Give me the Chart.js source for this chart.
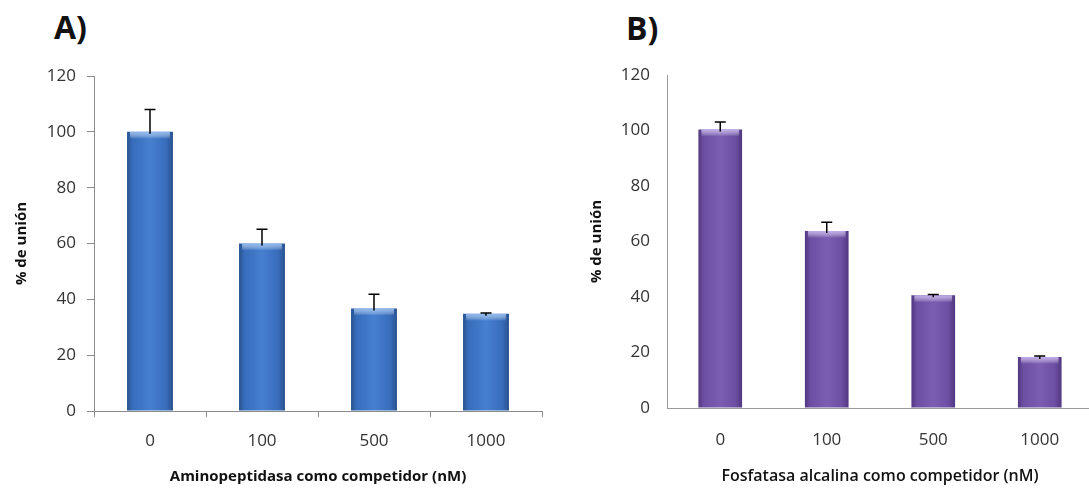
<!DOCTYPE html>
<html>
<head>
<meta charset="utf-8">
<script src="https://cdn.jsdelivr.net/npm/chart.js@4.4.0/dist/chart.umd.min.js"></script>
<style>
  html, body { margin: 0; padding: 0; width: 1089px; height: 491px; overflow: hidden; background: #fff; }
  .panel { position: absolute; top: 0; width: 560px; height: 491px; }
  .label { position: absolute; font-family: "Open Sans", sans-serif; font-weight: 700; font-size: 32px; color: #111; line-height: 1; }
</style>
</head>
<body>
<div class="label" style="left:54px; top:11px;">A)</div>
<div class="label" style="left:626px; top:12px;">B)</div>
<div class="panel" style="left:0;"><canvas id="chartA" width="560" height="491"></canvas></div>
<div class="panel" style="left:545px;"><canvas id="chartB" width="560" height="491"></canvas></div>
<script>
// Daten
const categories = ['0', '100', '500', '1000'];
const aminoValues = [100, 60, 36.7, 34.8];
const aminoErrors = [8, 5.1, 5.1, 0.3];
const fosfaValues = [100.4, 63.8, 40.6, 18.4];
const fosfaErrors = [2.7, 3.1, 0.3, 0.3];
const yTicks = [0, 20, 40, 60, 80, 100, 120];

const fontFamily = '"Open Sans", sans-serif';

// horizontaler Verlauf pro Balken (dunkle Ränder, helle Mitte)
function barGradient(dark, mid, light) {
    return function (ctx) {
        const chart = ctx.chart;
        const xScale = chart.scales.x;
        if (!xScale || !chart.chartArea) return mid;
        const cx = xScale.getPixelForValue(ctx.dataIndex);
        const w = (xScale.width / categories.length) * 0.41;
        const g = chart.ctx.createLinearGradient(cx - w / 2, 0, cx + w / 2, 0);
        g.addColorStop(0, dark);
        g.addColorStop(0.12, mid);
        g.addColorStop(0.5, light);
        g.addColorStop(0.85, mid);
        g.addColorStop(1, dark);
        return g;
    };
}

// Fehlerbalken + heller Rand oben
const errorBars = {
    id: 'errorBars',
    afterDatasetsDraw(chart, args, opts) {
        const ctx = chart.ctx;
        const meta = chart.getDatasetMeta(0);
        const yScale = chart.scales.y;
        const values = chart.data.datasets[0].data;
        meta.data.forEach((bar, i) => {
            const left = bar.x - bar.width / 2;
            // Glanzkante oben
            const hg = ctx.createLinearGradient(0, bar.y, 0, bar.y + 7);
            hg.addColorStop(0, opts.highlight);
            hg.addColorStop(1, 'rgba(255,255,255,0)');
            ctx.save();
            ctx.fillStyle = hg;
            ctx.fillRect(left + 3, bar.y, bar.width - 6, 7);
            ctx.restore();

            const top = yScale.getPixelForValue(values[i] + opts.errors[i]);
            ctx.save();
            ctx.strokeStyle = '#000';
            ctx.lineWidth = 1.5;
            ctx.beginPath();
            ctx.moveTo(bar.x, bar.y + 2);
            ctx.lineTo(bar.x, top);
            ctx.moveTo(bar.x - 5.5, top);
            ctx.lineTo(bar.x + 5.5, top);
            ctx.stroke();
            ctx.restore();
        });
    }
};

function makeChart(id, values, errors, colors, cfg) {
    return new Chart(document.getElementById(id), {
        type: 'bar',
        data: {
            labels: categories,
            datasets: [{
                data: values,
                backgroundColor: barGradient(colors[0], colors[1], colors[2]),
                borderColor: colors[0],
                borderWidth: 0,
                categoryPercentage: 1,
                barPercentage: 0.41
            }]
        },
        options: {
            responsive: false,
            animation: false,
            layout: { padding: { left: 0, right: cfg.padRight, top: cfg.top, bottom: 0 } },
            plugins: {
                legend: { display: false },
                tooltip: { enabled: false },
                errorBars: { errors: errors, highlight: colors[3] }
            },
            scales: {
                x: {
                    offset: true,
                    afterFit: (s) => { s.height = cfg.xHeight; },
                    grid: {
                        display: true, drawOnChartArea: false, offset: true,
                        drawTicks: cfg.ticks, tickLength: 6, color: cfg.axisColor
                    },
                    border: { color: cfg.axisColor, width: 1 },
                    ticks: { color: '#333', padding: cfg.xPad, font: { family: fontFamily, size: 17 } },
                    title: {
                        display: true, text: cfg.xTitle, color: '#111',
                        font: { family: fontFamily, size: cfg.xSize, weight: cfg.xWeight },
                        padding: { top: 0, bottom: 5 }
                    }
                },
                y: {
                    min: 0, max: 120,
                    afterFit: (s) => { s.width = cfg.yWidth; },
                    afterBuildTicks: (s) => { s.ticks = yTicks.map(v => ({ value: v })); },
                    grid: {
                        display: true, drawOnChartArea: false,
                        drawTicks: cfg.ticks, tickLength: 7, color: cfg.axisColor
                    },
                    border: { color: cfg.axisColor, width: 1 },
                    ticks: { color: '#333', padding: cfg.yPad, font: { family: fontFamily, size: 17 } },
                    title: {
                        display: true, text: '% de unión', color: '#111',
                        font: { family: fontFamily, size: 15, weight: 'bold' },
                        padding: { top: cfg.yTitlePad, bottom: 0 }
                    }
                }
            }
        },
        plugins: [errorBars]
    });
}

makeChart('chartA', aminoValues, aminoErrors,
    ['#28528f', '#376dbb', '#4680cf', 'rgba(150,190,240,0.9)'],
    {
        padRight: 18, top: 76, xHeight: 80, yWidth: 94, ticks: true,
        axisColor: '#8c8c8c', xPad: 14, yPad: 11, yTitlePad: 13,
        xTitle: 'Aminopeptidasa como competidor (nM)', xWeight: 'bold', xSize: 15
    });

makeChart('chartB', fosfaValues, fosfaErrors,
    ['#513780', '#6c4ea2', '#7b5db1', 'rgba(200,180,240,0.9)'],
    {
        padRight: 12, top: 75, xHeight: 83, yWidth: 122, ticks: false,
        axisColor: '#9a9a9a', xPad: 22, yPad: 17, yTitlePad: 43,
        xTitle: 'Fosfatasa alcalina como competidor (nM)', xWeight: '600', xSize: 16
    });
</script>
</body>
</html>
